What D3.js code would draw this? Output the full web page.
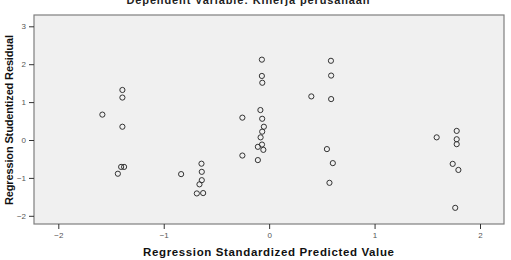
<!DOCTYPE html>
<html><head><meta charset="utf-8">
<script src="https://cdn.jsdelivr.net/npm/d3@7"></script>
<style>body{margin:0;background:#fff}svg{display:block}</style>
</head><body>
<script>
const title = "Dependent Variable: Kinerja perusahaan";
const xTitle = "Regression Standardized Predicted Value";
const yTitle = "Regression Studentized Residual";
const xTicks = [-2, -1, 0, 1, 2];
const yTicks = [-2, -1, 0, 1, 2, 3];
const predicted = [
  -1.392, -1.392, -1.582, -1.392, -1.404, -1.376, -1.435,
  -0.642, -0.835, -0.639, -0.639, -0.661, -0.686, -0.626,
  -0.069, -0.069, -0.065, -0.083, -0.254, -0.066, -0.050, -0.066, -0.081, -0.068, -0.107, -0.055, -0.254, -0.107,
  0.586, 0.588, 0.400, 0.588, 0.548, 0.604, 0.572,
  1.589, 1.779, 1.779, 1.779, 1.741, 1.795, 1.765
];
const residual = [
  1.32, 1.12, 0.67, 0.35, -0.71, -0.71, -0.89,
  -0.625, -0.90, -0.84, -1.06, -1.17, -1.41, -1.40,
  2.12, 1.69, 1.51, 0.79, 0.59, 0.56, 0.35, 0.22, 0.07, -0.12, -0.18, -0.26, -0.41, -0.53,
  2.09, 1.70, 1.15, 1.08, -0.24, -0.61, -1.13,
  0.07, 0.24, 0.02, -0.11, -0.63, -0.79, -1.79
];

const W = 511, H = 260;
const L = 34, R = 504, T = 15, B = 224;
const svg = d3.select("body").append("svg").attr("width", W).attr("height", H);

const x = d3.scaleLinear().domain([-2, 2]).range([58.3, 480]);
const y = d3.scaleLinear().domain([0, 3]).range([140, 26.3]);
const font = "Liberation Sans, Arial, sans-serif";

svg.append("rect").attr("x", L).attr("y", T).attr("width", R - L).attr("height", B - T)
  .attr("fill", "#f0f0f0").attr("stroke", "#7f7f7f").attr("stroke-width", 1.2);

const yAxis = d3.axisLeft(y).tickValues(yTicks).tickSize(5).tickPadding(3).tickFormat(d3.format("d"));
const gy = svg.append("g").attr("transform", `translate(${L},0)`).call(yAxis);
gy.select(".domain").remove();
gy.selectAll("line").attr("stroke", "#333");
gy.selectAll("text").attr("font-family", font).attr("font-size", 8).attr("fill", "#555");

const xAxis = d3.axisBottom(x).tickValues(xTicks).tickSize(5).tickPadding(3).tickFormat(d3.format("d"));
const gx = svg.append("g").attr("transform", `translate(0,${B})`).call(xAxis);
gx.select(".domain").remove();
gx.selectAll("line").attr("stroke", "#333");
gx.selectAll("text").attr("font-family", font).attr("font-size", 8).attr("fill", "#555");

svg.append("g").selectAll("circle").data(predicted.map((p, i) => [p, residual[i]])).join("circle")
  .attr("cx", d => x(d[0])).attr("cy", d => y(d[1])).attr("r", 2.6)
  .attr("fill", "none").attr("stroke", "#333").attr("stroke-width", 1);

svg.append("text").attr("x", 248).attr("y", 3.5).attr("text-anchor", "middle")
  .attr("font-family", font).attr("font-weight", "bold").attr("font-size", 11)
  .attr("textLength", 243).attr("lengthAdjust", "spacing")
  .attr("fill", "#222").text(title);

svg.append("text").attr("x", 268.5).attr("y", 256).attr("text-anchor", "middle")
  .attr("font-family", font).attr("font-weight", "bold").attr("font-size", 11.5)
  .attr("textLength", 251).attr("lengthAdjust", "spacing")
  .attr("fill", "#111").text(xTitle);

svg.append("text").attr("transform", "translate(13,120) rotate(-90)").attr("text-anchor", "middle")
  .attr("font-family", font).attr("font-weight", "bold").attr("font-size", 11)
  .attr("textLength", 170).attr("lengthAdjust", "spacing")
  .attr("fill", "#111").text(yTitle);
</script>
</body></html>
